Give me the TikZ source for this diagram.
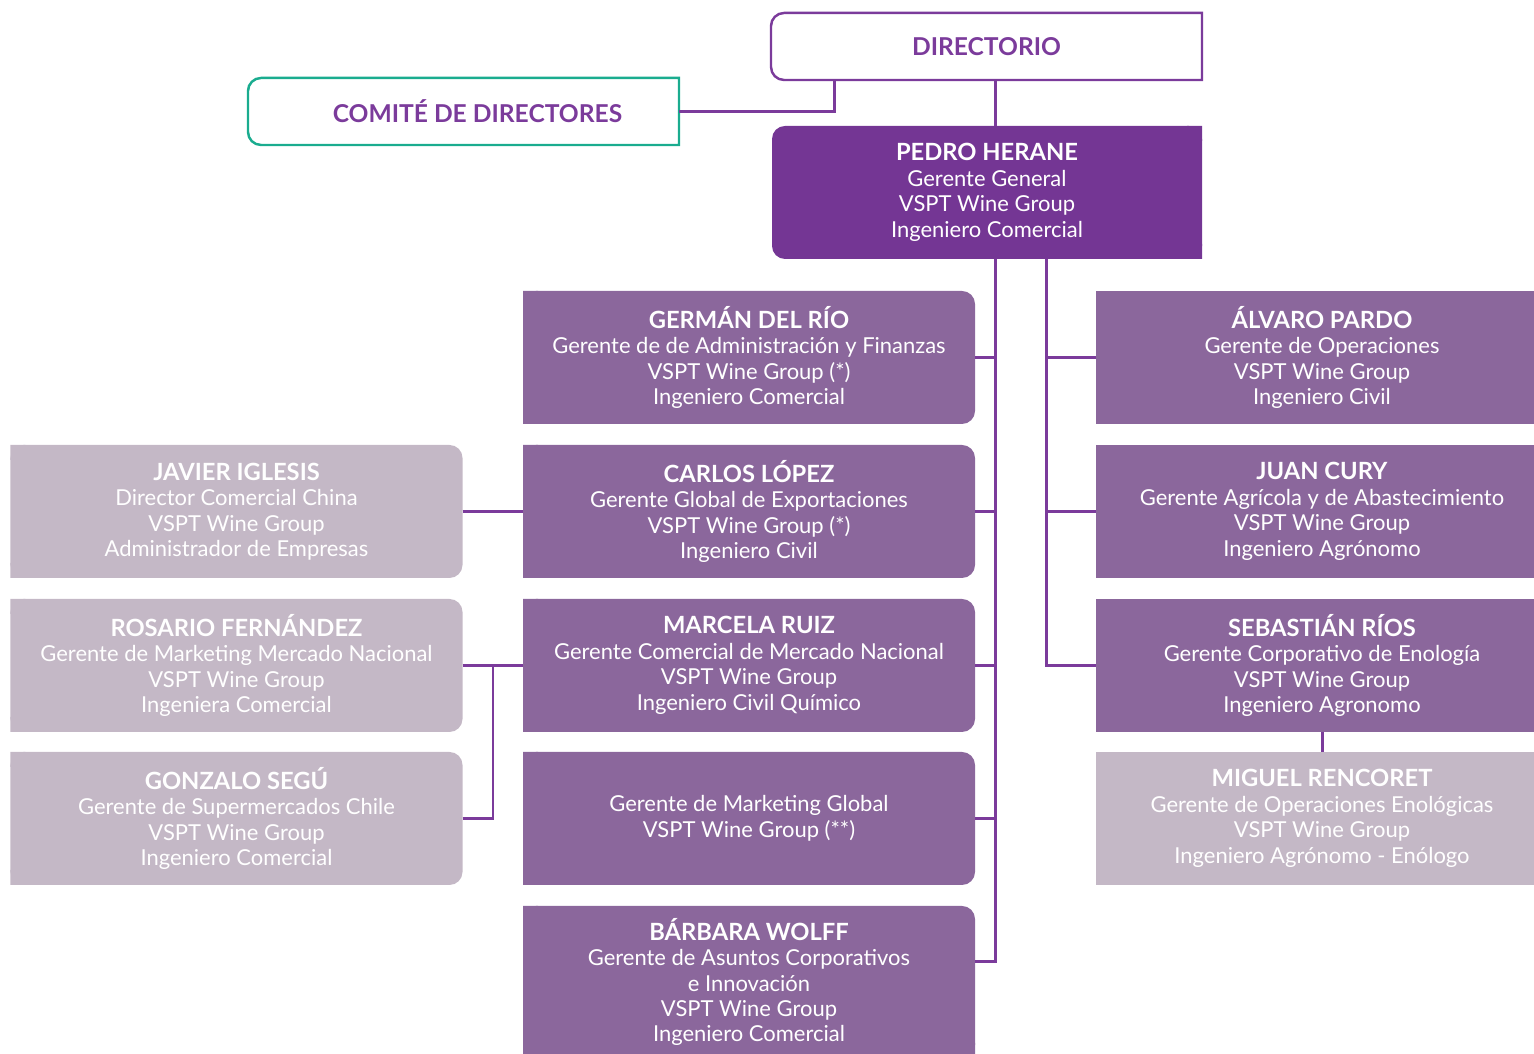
\documentclass[tikz,border=0pt]{standalone}
\usepackage{fontspec}
\setmainfont{Lato}
\usepackage{tikz}
\usetikzlibrary{positioning}

\definecolor{morado}{HTML}{743694}
\definecolor{lila}{HTML}{8B679C}
\definecolor{gris}{HTML}{C4B8C6}
\definecolor{linea}{HTML}{7B3B9B}
\definecolor{verde}{HTML}{1AAC8F}

\newcommand{\nombre}[1]{{\bfseries\fontsize{13.5}{14.5}\selectfont #1}}

\tikzset{
    cargo/.style={rectangle, inner sep=0pt, outer sep=0pt, align=center, text=white,
        font=\fontsize{12.5}{14.5}\selectfont, minimum width=90.4mm, minimum height=26.6mm},
    jefe/.style={cargo, fill=morado, rounded corners=2.6mm, minimum width=86mm},
    medio/.style={cargo, fill=lila, rounded corners=2.6mm},
    lado/.style={cargo, fill=lila},
    apoyo/.style={cargo, fill=gris, rounded corners=2.6mm},
    apoyoder/.style={cargo, fill=gris},
    marco/.style={rectangle, inner sep=0pt, outer sep=0pt, text=linea,
        font=\bfseries\fontsize{14}{16}\selectfont, minimum width=86.2mm, minimum height=13.4mm},
    link/.style={draw=linea, line width=1.7pt}
}

\begin{document}
\begin{tikzpicture}[x=0.2mm, y=0.2mm]
    \useasboundingbox (0,0) rectangle (1534,1054);

    % directorio y comite
    \node[marco] (dir) at (986.5,1007.5) {DIRECTORIO};
    \node[marco] (cdd) at (463.5,942.5) {\hspace*{5.6mm}COMITÉ DE DIRECTORES};
    \draw[linea, line width=1.4pt] (dir.north east) -- ([xshift=2.6mm]dir.north west)
        arc[start angle=90, end angle=180, radius=2.6mm] -- ([yshift=2.6mm]dir.south west)
        arc[start angle=180, end angle=270, radius=2.6mm] -- (dir.south east) -- cycle;
    \draw[verde, line width=1.4pt] (cdd.north east) -- ([xshift=2.6mm]cdd.north west)
        arc[start angle=90, end angle=180, radius=2.6mm] -- ([yshift=2.6mm]cdd.south west)
        arc[start angle=180, end angle=270, radius=2.6mm] -- (cdd.south east) -- cycle;

    \node[jefe] (ph) at (987,861.5) {\nombre{PEDRO HERANE}\\Gerente General\\VSPT Wine Group\\Ingeniero Comercial};

    % columna central
    \node[medio] (g) at (749,696.5) {\nombre{GERMÁN DEL RÍO}\\Gerente de de Administración y Finanzas\\VSPT Wine Group (*)\\Ingeniero Comercial};
    \node[medio] (c) at (749,542.5) {\nombre{CARLOS LÓPEZ}\\Gerente Global de Exportaciones\\VSPT Wine Group (*)\\Ingeniero Civil};
    \node[medio] (m) at (749,388.5) {\nombre{MARCELA RUIZ}\\Gerente Comercial de Mercado Nacional\\VSPT Wine Group\\Ingeniero Civil Químico};
    \node[medio] (k) at (749,235.5) {Gerente de Marketing Global\\VSPT Wine Group (**)};
    \node[medio, minimum height=30.4mm] (b) at (749,72) {\nombre{BÁRBARA WOLFF}\\Gerente de Asuntos Corporativos\\e Innovación\\VSPT Wine Group\\Ingeniero Comercial};

    % columna derecha
    \node[lado] (a) at (1322,696.5) {\nombre{ÁLVARO PARDO}\\Gerente de Operaciones\\VSPT Wine Group\\Ingeniero Civil};
    \node[lado] (j) at (1322,542.5) {\nombre{JUAN CURY}\\Gerente Agrícola y de Abastecimiento\\VSPT Wine Group\\Ingeniero Agrónomo};
    \node[lado] (s) at (1322,388.5) {\nombre{SEBASTIÁN RÍOS}\\Gerente Corporativo de Enología\\VSPT Wine Group\\Ingeniero Agronomo};
    \node[apoyoder] (mr) at (1322,235.5) {\nombre{MIGUEL RENCORET}\\Gerente de Operaciones Enológicas\\VSPT Wine Group\\Ingeniero Agrónomo - Enólogo};

    % columna izquierda
    \node[apoyo] (ji) at (236.5,542.5) {\nombre{JAVIER IGLESIS}\\Director Comercial China\\VSPT Wine Group\\Administrador de Empresas};
    \node[apoyo] (rf) at (236.5,388.5) {\nombre{ROSARIO FERNÁNDEZ}\\Gerente de Marketing Mercado Nacional\\VSPT Wine Group\\Ingeniera Comercial};
    \node[apoyo] (gs) at (236.5,235.5) {\nombre{GONZALO SEGÚ}\\Gerente de Supermercados Chile\\VSPT Wine Group\\Ingeniero Comercial};

    % esquinas rectas
    \fill[morado] (ph.north east) rectangle ++(-15,-15) (ph.south east) rectangle ++(-15,15);
    \fill[lila] (g.north west) rectangle ++(15,-15) (g.south west) rectangle ++(15,15);
    \fill[lila] (c.north west) rectangle ++(15,-15) (c.south west) rectangle ++(15,15);
    \fill[lila] (m.north west) rectangle ++(15,-15) (m.south west) rectangle ++(15,15);
    \fill[lila] (k.north west) rectangle ++(15,-15) (k.south west) rectangle ++(15,15);
    \fill[lila] (b.north west) rectangle ++(15,-15) (b.south west) rectangle ++(15,15)
        (b.south east) rectangle ++(-15,15);
    \fill[gris] (ji.north west) rectangle ++(15,-15) (ji.south west) rectangle ++(15,15);
    \fill[gris] (rf.north west) rectangle ++(15,-15) (rf.south west) rectangle ++(15,15);
    \fill[gris] (gs.north west) rectangle ++(15,-15) (gs.south west) rectangle ++(15,15);

    \coordinate (dj) at (834,974);
    \coordinate (t1) at (995,795);
    \coordinate (t2) at (1046,795);
    \coordinate (lj) at (493,388.5);

    \draw[link] (cdd.east) -| (dj);
    \draw[link] (t1 |- dir.south) -- (t1 |- ph.north);
    \draw[link] (t1) |- ([yshift=4mm]b.east);
    \draw[link] (t2) |- (s.west);
    \draw[link]
        (g.east) -- (g.east -| t1)
        (c.east) -- (c.east -| t1)
        (m.east) -- (m.east -| t1)
        (k.east) -- (k.east -| t1)
        (a.west) -- (a.west -| t2)
        (j.west) -- (j.west -| t2)
        (s.south) -- (mr.north)
        (ji.east) -- (c.west)
        (rf.east) -- (m.west)
        ;
    \draw[link] (gs.east) -| (lj);
\end{tikzpicture}
\end{document}
